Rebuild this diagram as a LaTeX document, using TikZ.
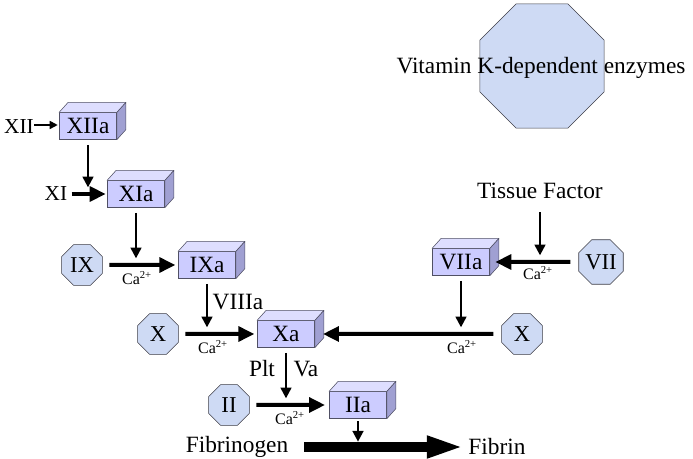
\documentclass[tikz,border=0pt]{standalone}
\usepackage{fontspec}
\setmainfont{Liberation Serif}
\definecolor{cubefront}{RGB}{204, 204, 255}
\definecolor{cubetop}{RGB}{222, 222, 255}
\definecolor{cubeside}{RGB}{160, 160, 210}
\definecolor{cubeline}{RGB}{80, 80, 100}
\definecolor{octfill}{RGB}{206, 218, 244}
\definecolor{octline}{RGB}{60, 60, 70}
\usepackage{tikz}
\usetikzlibrary{shapes.geometric, arrows.meta, calc}
\tikzset{
    enzyme/.style={rectangle, draw=cubeline, fill=cubefront, minimum width=43pt, minimum height=20pt, inner sep=0pt, font=\fontsize{17.5}{20}\selectfont},
    topface/.style={draw=cubeline, fill=cubetop, line join=round},
    sideface/.style={draw=cubeline, fill=cubeside, line join=round},
    factor/.style={regular polygon, regular polygon sides=8, draw=octline, fill=octfill, minimum size=33pt, inner sep=0pt, font=\fontsize{17}{20}\selectfont},
    txt/.style={inner sep=0pt, font=\fontsize{17.5}{20}\selectfont},
    smalltxt/.style={inner sep=0pt, font=\fontsize{16}{18}\selectfont},
    ion/.style={inner sep=0pt, font=\fontsize{12}{14}\selectfont},
    tinyarrow/.style={line width=1.2pt, -{Triangle[length=6pt,width=6pt]}},
    arrow/.style={line width=1.7pt, -{Triangle[length=8pt,width=8pt]}},
    thickarrow/.style={line width=3pt, -{Triangle[length=12pt,width=11pt]}},
    bigarrow/.style={line width=7pt, -{Triangle[length=28pt,width=15pt]}}
}
\begin{document}
\begin{tikzpicture}[x=0.75pt, y=-0.75pt]
    \useasboundingbox (0,0) rectangle (693,459);

    % Legend
    \node[factor, minimum size=101pt] (vkoct) at (542,66) {};
    \node[txt] (vktext) at (541,68) {Vitamin K-dependent enzymes};

    % Intrinsic pathway
    \node[smalltxt] (xii) at (19,127) {XII};
    \node[enzyme] (xiia) at (88,126) {XIIa};
    \node[smalltxt] (xi) at (56,194) {XI};
    \node[enzyme] (xia) at (136,194) {XIa};
    \node[factor] (ix) at (82,265) {IX};
    \node[enzyme] (ixa) at (207,265) {IXa};
    \node[factor] (xl) at (158,334) {X};
    \node[enzyme] (xa) at (286,334) {Xa};
    \node[factor] (ii) at (229,405) {II};
    \node[enzyme] (iia) at (358,405) {IIa};

    % Extrinsic pathway
    \node[txt] (tf) at (540,191) {Tissue Factor};
    \node[enzyme] (viia) at (461,262) {VIIa};
    \node[factor] (vii) at (601,262) {VII};
    \node[factor] (xr) at (522,334) {X};

    % Fibrin
    \node[txt] (fbg) at (237,447) {Fibrinogen};
    \node[txt] (fbn) at (497,447) {Fibrin};

    % Cofactors
    \node[ion] (ca1) at (137,278) {Ca\textsuperscript{2+}};
    \node[ion] (ca2) at (213,347) {Ca\textsuperscript{2+}};
    \node[ion] (ca3) at (290,418) {Ca\textsuperscript{2+}};
    \node[ion] (ca4) at (538,273) {Ca\textsuperscript{2+}};
    \node[ion] (ca5) at (462,347) {Ca\textsuperscript{2+}};
    \node[txt] (viiia) at (238,302) {VIIIa};
    \node[txt] (plt) at (262,369) {Plt};
    \node[txt] (va) at (306,369) {Va};

    % Cube faces
    \foreach \n in {xiia, xia, ixa, xa, iia, viia} {
        \filldraw[topface] (\n.north west) -- ++(9,-10) -- ($(\n.north east)+(9,-10)$) -- (\n.north east) -- cycle;
        \filldraw[sideface] (\n.north east) -- ($(\n.north east)+(9,-10)$) -- ($(\n.south east)+(9,-10)$) -- (\n.south east) -- cycle;
    }

    % Arrows
    \draw[tinyarrow, shorten >=1pt] ($(xii.east)+(0,-2)$) -- ($(xii.east -| xiia.west)+(0,-2)$);
    \draw[thickarrow, shorten <=3pt, shorten >=1pt] (xi) -- (xia);
    \draw[thickarrow, shorten <=5pt, shorten >=2pt] (ix) -- (ixa);
    \draw[thickarrow, shorten <=5pt, shorten >=2pt] (xl) -- (xa);
    \draw[thickarrow, shorten <=5pt, shorten >=3pt] (ii) -- (iia);
    \draw[thickarrow, shorten <=6pt, shorten >=4pt] (vii) -- (viia);
    \draw[thickarrow, shorten <=6pt, shorten >=6pt] (xr) -- (xa);
    \draw[arrow, shorten <=4pt, shorten >=5pt] (xiia.south) -- (xiia.south |- xi);
    \draw[arrow, shorten <=4pt, shorten >=5pt] (xia.south) -- (xia.south |- ix);
    \draw[arrow, shorten <=4pt, shorten >=5pt] (ixa.south) -- (ixa.south |- xl);
    \draw[arrow, shorten <=4pt, shorten >=5pt] (xa.south) -- (xa.south |- ii);
    \draw[arrow, shorten <=2pt, shorten >=4pt] (iia.south) -- (iia.south |- fbg);
    \draw[arrow, shorten <=10pt, shorten >=5pt] (tf.south) -- (tf.south |- vii);
    \draw[arrow, shorten <=4pt, shorten >=5pt] (viia.south) -- (viia.south |- xr);
    \draw[bigarrow, shorten <=12pt, shorten >=3pt] (fbg) -- (fbn);
\end{tikzpicture}
\end{document}
